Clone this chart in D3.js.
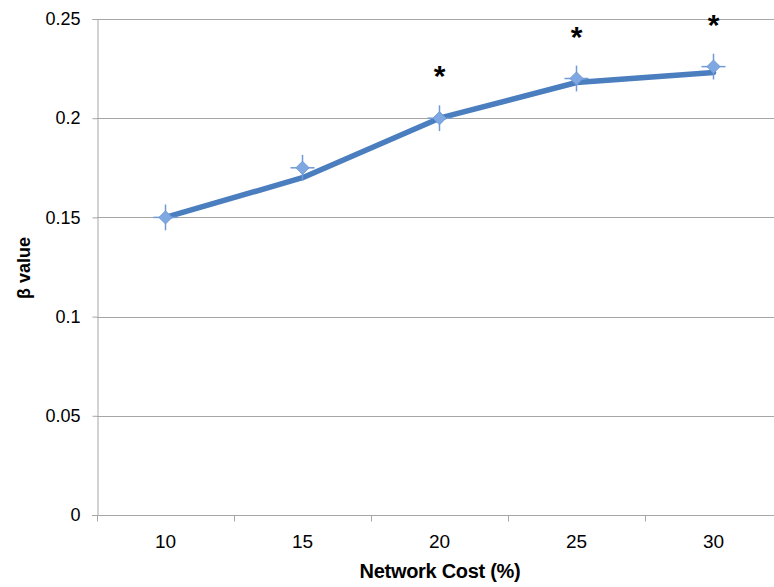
<!DOCTYPE html>
<html>
<head>
<meta charset="utf-8">
<script src="https://cdn.jsdelivr.net/npm/d3@7"></script>
<style>
  body { margin: 0; background: #fff; }
  text { font-family: "Liberation Sans", Arial, sans-serif; }
</style>
</head>
<body>
<div id="chart"></div>
<script>
// data
var categories = ['10', '15', '20', '25', '30'];
var lineValues = [0.15, 0.17, 0.2, 0.218, 0.223];     // fitted line
var markerValues = [0.15, 0.175, 0.2, 0.22, 0.226];  // measured points
var markerErr = [0.0065, 0.0065, 0.0065, 0.0065, 0.0065];
var marks = ['', '', '*', '*', '*'];
var yTicks = [0, 0.05, 0.1, 0.15, 0.2, 0.25];

var width = 774, height = 587;
var margin = { top: 19, left: 97, bottom: 72, right: -8 };

var svg = d3.select('#chart').append('svg')
    .attr('width', width)
    .attr('height', height);

var xScale = d3.scaleBand()
    .domain(categories)
    .range([margin.left, width - margin.right]);

var yScale = d3.scaleLinear()
    .domain([0, 0.25])
    .range([height - margin.bottom, margin.top]);

var gridColor = '#a6a6a6';

// horizontal gridlines
svg.append('g')
    .selectAll('line')
    .data(yTicks.slice(1))
    .enter().append('line')
    .attr('x1', margin.left)
    .attr('x2', width - margin.right)
    .attr('y1', function (d) { return Math.round(yScale(d)) + 0.5; })
    .attr('y2', function (d) { return Math.round(yScale(d)) + 0.5; })
    .attr('stroke', gridColor)
    .attr('stroke-width', 1);

// y axis
var yAxis = d3.axisLeft(yScale)
    .tickValues(yTicks)
    .tickSize(5)
    .tickPadding(12)
    .tickFormat(function (d) { return d === 0 ? '0' : String(+d.toFixed(2)); });

var gy = svg.append('g')
    .attr('transform', 'translate(' + (margin.left + 0.5) + ',0)')
    .call(yAxis);
gy.select('.domain').attr('stroke', gridColor);
gy.selectAll('.tick line').attr('stroke', gridColor);
gy.selectAll('.tick text')
    .attr('fill', '#000')
    .style('font-size', '18px');

// x axis: ticks at band boundaries
var xBottom = yScale(0);
var gx = svg.append('g')
    .attr('transform', 'translate(0,' + (Math.round(xBottom) + 0.5) + ')');
gx.append('line')
    .attr('x1', margin.left - 5)
    .attr('x2', width - margin.right)
    .attr('stroke', gridColor);
var bounds = categories.map(function (c) { return xScale(c); });
gx.selectAll('.tk')
    .data(bounds)
    .enter().append('line')
    .attr('class', 'tk')
    .attr('x1', function (d) { return Math.round(d) + 0.5; })
    .attr('x2', function (d) { return Math.round(d) + 0.5; })
    .attr('y1', 0)
    .attr('y2', 6)
    .attr('stroke', gridColor);
gx.selectAll('.lbl')
    .data(categories)
    .enter().append('text')
    .attr('class', 'lbl')
    .attr('x', function (d) { return xScale(d) + xScale.bandwidth() / 2; })
    .attr('y', 32)
    .attr('text-anchor', 'middle')
    .style('font-size', '19px')
    .text(function (d) { return d; });

// axis titles
svg.append('text')
    .attr('x', 440)
    .attr('y', 578)
    .attr('text-anchor', 'middle')
    .style('font-size', '20px')
    .style('font-weight', 'bold')
    .style('letter-spacing', '-0.3px')
    .text('Network Cost (%)');

svg.append('text')
    .attr('transform', 'translate(30,' + 268 + ') rotate(-90)')
    .attr('text-anchor', 'middle')
    .style('font-size', '18px')
    .style('font-weight', 'bold')
    .text('β value');

var cx = function (i) { return xScale(categories[i]) + xScale.bandwidth() / 2; };

// line
var line = d3.line()
    .x(function (d, i) { return cx(i); })
    .y(function (d) { return yScale(d); });

svg.append('path')
    .datum(lineValues)
    .attr('d', line)
    .attr('fill', 'none')
    .attr('stroke', '#4a7ebf')
    .attr('stroke-width', 5.5)
    .attr('stroke-linecap', 'round')
    .attr('stroke-linejoin', 'round');

// markers with error crosshair
var pts = svg.append('g')
    .selectAll('g')
    .data(markerValues)
    .enter().append('g')
    .attr('transform', function (d, i) { return 'translate(' + cx(i) + ',' + yScale(d) + ')'; });

pts.append('line')
    .attr('x1', 0).attr('x2', 0)
    .attr('y1', function (d, i) { return yScale(d + markerErr[i]) - yScale(d); })
    .attr('y2', function (d, i) { return yScale(d - markerErr[i]) - yScale(d); })
    .attr('stroke', '#6f9ad6')
    .attr('stroke-width', 1.5);

pts.append('line')
    .attr('x1', -12).attr('x2', 12)
    .attr('y1', 0).attr('y2', 0)
    .attr('stroke', '#6f9ad6')
    .attr('stroke-width', 1.5);

pts.append('path')
    .attr('d', d3.symbol().type(d3.symbolDiamond2).size(110))
    .attr('fill', '#7fa8e2')
    .attr('stroke', '#6f9ad6')
    .attr('stroke-width', 1);

// significance marks
svg.append('g')
    .selectAll('text')
    .data(marks)
    .enter().append('text')
    .attr('x', function (d, i) { return cx(i); })
    .attr('y', function (d, i) { return yScale(markerValues[i]) - 32; })
    .attr('text-anchor', 'middle')
    .style('font-size', '30px')
    .style('font-weight', 'bold')
    .text(function (d) { return d; });
</script>
</body>
</html>
